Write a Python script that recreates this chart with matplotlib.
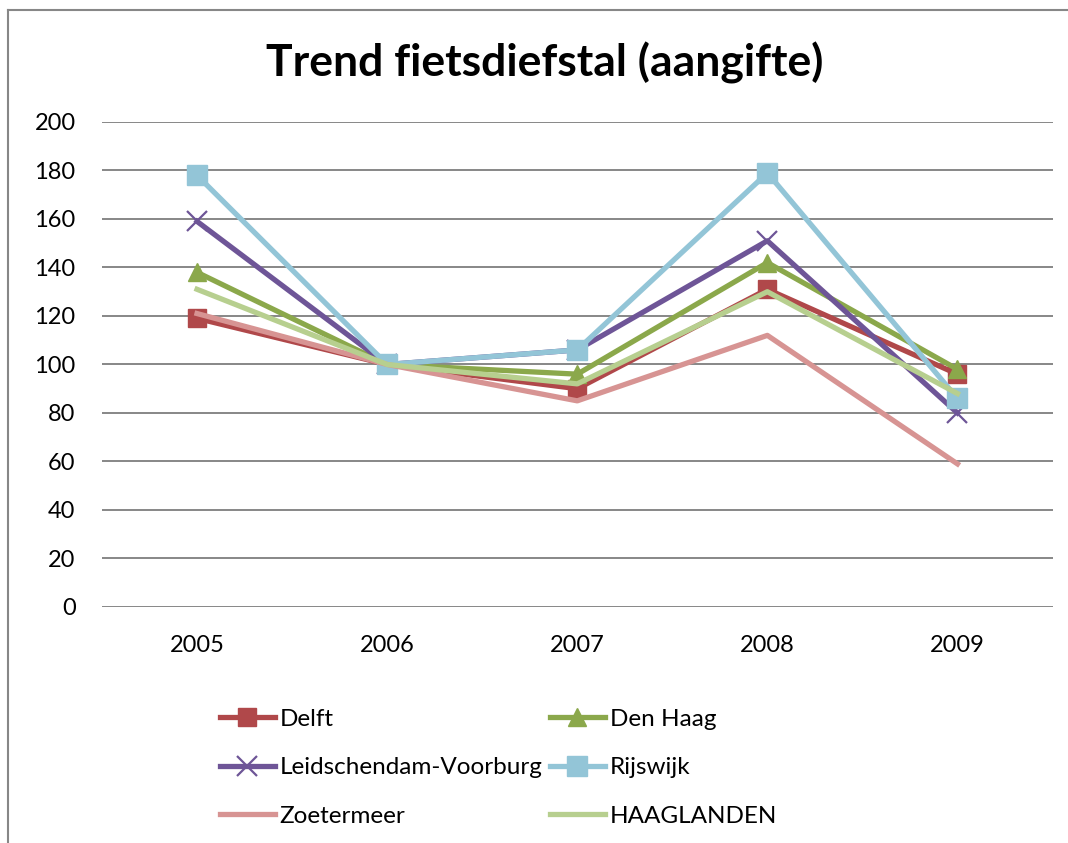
import numpy as np
import matplotlib.pyplot as plt
from matplotlib.lines import Line2D

plt.rcParams['font.family'] = ['Lato', 'DejaVu Sans']

# jaren en indexcijfers (2006 = 100)
jaren = ['2005', '2006', '2007', '2008', '2009']
delft = [119, 100, 90, 131, 96]
den_haag = [138, 100, 96, 142, 98]
leidschendam = [159, 100, 106, 151, 80]
rijswijk = [178, 100, 106, 179, 86]
zoetermeer = [121, 100, 85, 112, 59]
haaglanden = [131, 100, 92, 130, 88]

fig = plt.figure(figsize=(10.68, 8.43), dpi=100)
ax = fig.add_axes([0.0955, 0.28, 0.89, 0.5753])

x = np.arange(len(jaren))
lw = 3.8
l_delft, = ax.plot(x, delft, color='#B0484A', lw=lw, marker='s', ms=13, label='Delft', zorder=3)
l_dh, = ax.plot(x, den_haag, color='#8BA84B', lw=lw, marker='^', ms=13, label='Den Haag', zorder=3)
l_lv, = ax.plot(x, leidschendam, color='#6E5597', lw=lw, marker='x', ms=14, mew=1.6,
                label='Leidschendam-Voorburg', zorder=3)
l_rw, = ax.plot(x, rijswijk, color='#93C5D7', lw=lw, marker='s', ms=14, label='Rijswijk', zorder=3)
l_zm, = ax.plot(x, zoetermeer, color='#D79493', lw=lw, label='Zoetermeer', zorder=3)
l_hl, = ax.plot(x, haaglanden, color='#B7CF8F', lw=lw, label='HAAGLANDEN', zorder=3)

ax.set_xlim(-0.5, 4.5)
ax.set_ylim(0, 200)
ax.set_yticks(range(0, 201, 20))
ax.set_xticks(x, jaren)
ax.grid(axis='y', color='#878787', lw=1.4)
ax.set_axisbelow(True)
for s in ax.spines.values():
    s.set_visible(False)
ax.tick_params(length=0, labelsize=17)
ax.tick_params(axis='y', pad=19)
ax.tick_params(axis='x', pad=20)

fig.text(0.51, 0.925, 'Trend fietsdiefstal (aangifte)', ha='center', va='center',
         fontsize=32, fontweight='bold')

# legenda rijgewijs (matplotlib vult per kolom)
handles = [l_delft, l_lv, l_zm, l_dh, l_rw, l_hl]
fig.legend(handles=handles, labels=[h.get_label() for h in handles], ncol=2,
           loc='upper left', bbox_to_anchor=(0.206, 0.159), frameon=False,
           fontsize=17.5, handlelength=2.26, handletextpad=0.2, columnspacing=0.3,
           labelspacing=1.13, borderaxespad=0, borderpad=0)

# rand om de grafiek
fig.add_artist(Line2D([8 / 1068, 8 / 1068], [0, 1 - 10 / 843], color='#878787', lw=1.5))
fig.add_artist(Line2D([8 / 1068, 1], [1 - 10 / 843, 1 - 10 / 843], color='#878787', lw=1.5))

fig.savefig('out.png', dpi=100)
